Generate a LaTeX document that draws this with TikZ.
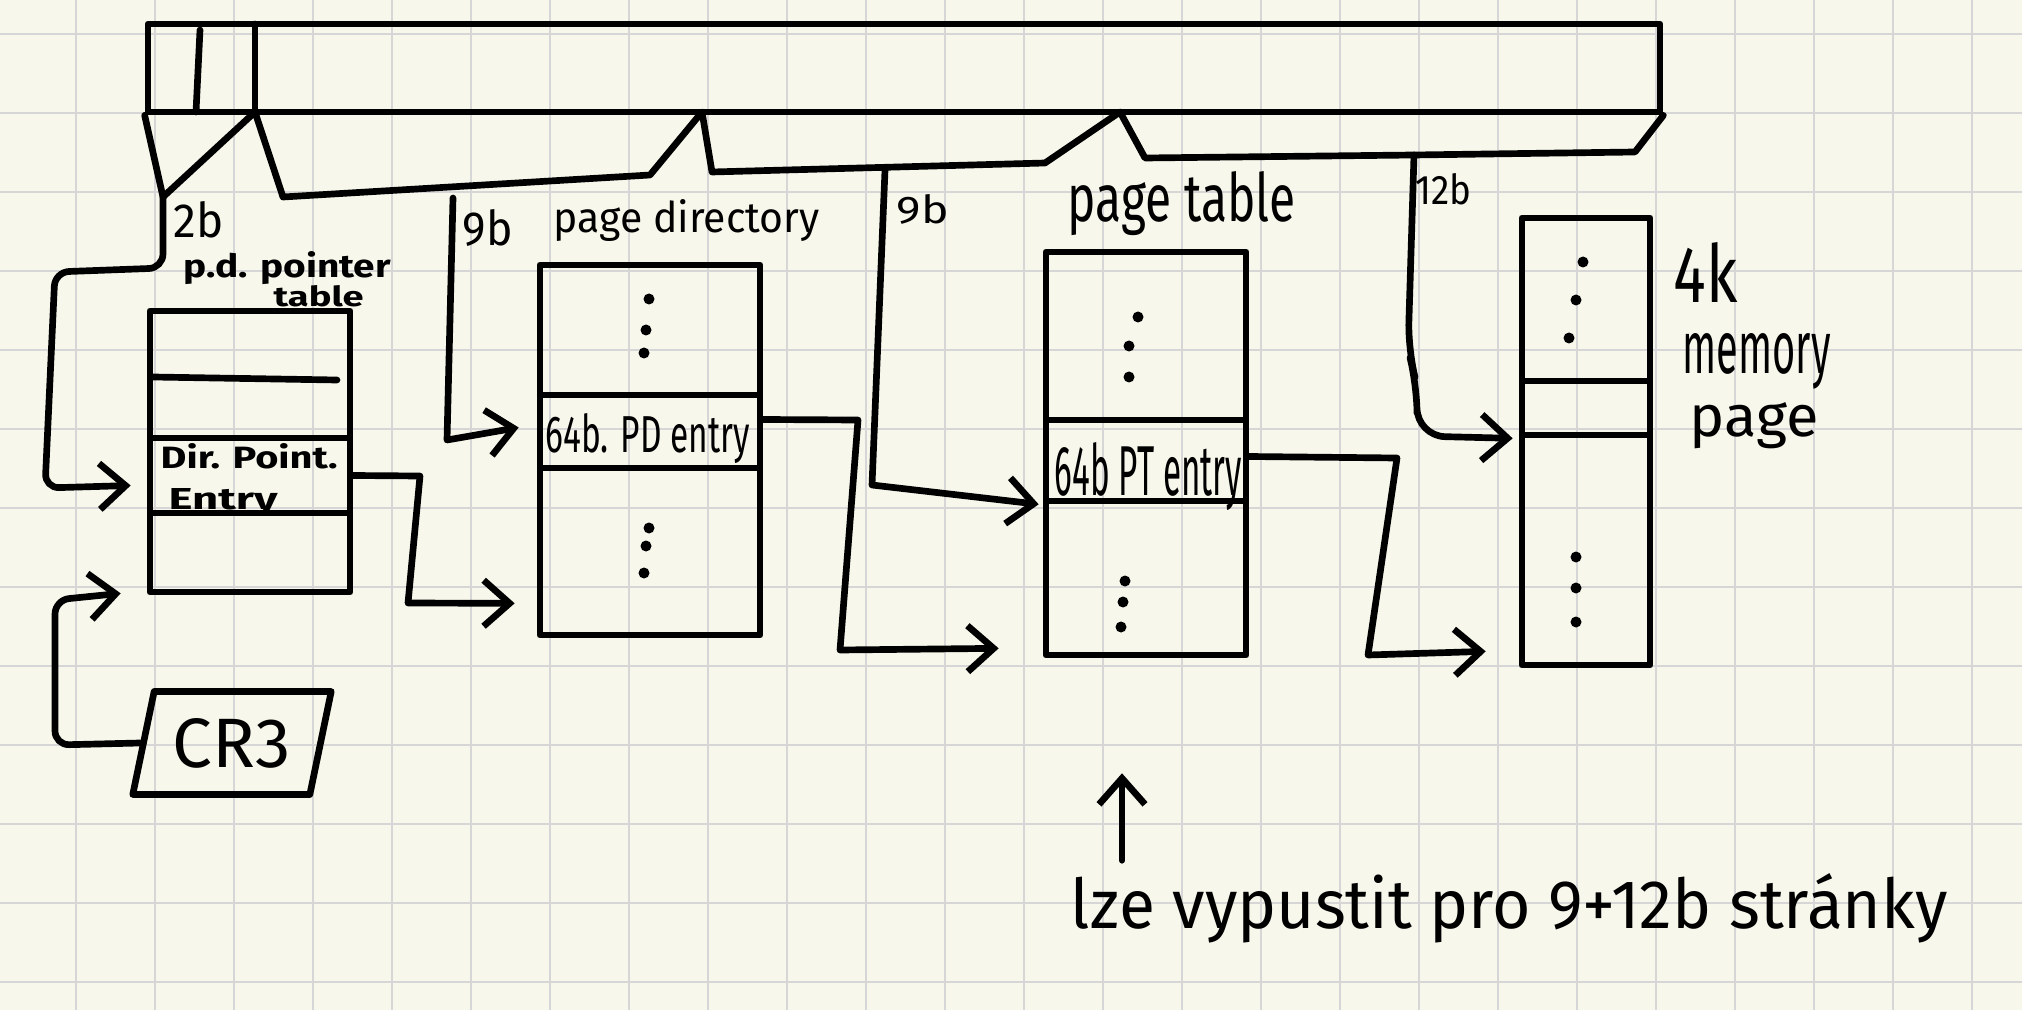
\documentclass[tikz,border=0pt]{standalone}
\usepackage{fontspec}
\setmainfont{Fira Sans}
\usepackage{graphicx}
\usetikzlibrary{arrows.meta,calc,fit,shapes.geometric}
\definecolor{paper}{HTML}{F8F7EC}
\definecolor{gridc}{HTML}{D6D6D6}
\definecolor{inkc}{HTML}{000000}
\begin{document}
\begin{tikzpicture}[x=0.1mm, y=-0.1mm,
  ink/.style={line width=1.9pt, line cap=round, line join=round, draw=inkc},
  tbl/.style={ink, draw, inner sep=0pt, fit={#1}},
  ptr/.style={ink, -{Straight Barb[length=2.6mm, width=4.6mm]}},
  lbl/.style={inner sep=0pt, anchor=base west, text=inkc},
  small/.style={lbl, font=\bfseries},
  gridl/.style={line width=0.75pt, draw=gridc},
  dot/.style={fill=inkc}]
% paper and squared grid
\useasboundingbox (0,0) rectangle (2022,1010);
\fill[paper] (0,0) rectangle (2022,1010);
\foreach \i in {0,...,25} \draw[gridl] ({-3+79*\i},0) -- ({-3+79*\i},1010);
\foreach \j in {0,...,12} \draw[gridl] (0,{34+79*\j}) -- (2022,{34+79*\j});

% linear address
\node[tbl={(148,24) (1660,112)}] (va) {};
\draw[ink] (200,30) -- (196,112);
\draw[ink] (255,24) -- (255,112);

% field brackets below the address
\coordinate (f2b) at (163,197);
\coordinate (b1) at (255,112);
\coordinate (b2) at (702,112);
\coordinate (b3) at (1120,112);
\coordinate (f9a) at (453,198);
\coordinate (f9b) at (885,170);
\coordinate (f12) at (1414,155);
\draw[ink] (va.south west) -- (f2b) -- (b1) -- (283,197) -- (650,175) -- (b2)
  -- (712,172) -- (1045,163) -- (b3) -- (1145,158) -- (f12) -- (1635,152) -- (va.south east);

% field labels
\node[lbl] (t2b) at (173,238) {\resizebox{5.0mm}{3.6mm}{2b}};
\node[lbl] (t9a) at (462,246) {\resizebox{5.0mm}{3.6mm}{9b}};
\node[lbl] (t9b) at (896,224) {\resizebox{5.2mm}{2.9mm}{9b}};
\node[lbl] (t12) at (1415,205) {\resizebox{5.6mm}{3.1mm}{12b}};

% page directory pointer table
\node[tbl={(150,311) (350,592)}] (pdpt) {};
\draw[ink] (153,377) -- (337,380);
\node[tbl={(150,438) (350,513)}] (pdpe) {};
\node[small] (tpd1) at (183,278) {\resizebox{20.7mm}{2.6mm}{p.d. pointer}};
\node[small] (tpd2) at (273,307) {\resizebox{9.0mm}{2.1mm}{table}};
\node[small] (tpde1) at (160,469) {\resizebox{17.7mm}{2.5mm}{Dir. Point.}};
\node[small] (tpde2) at (168,509) {\resizebox{10.9mm}{2.1mm}{Entry}};

% page directory
\node[tbl={(540,265) (760,635)}] (pd) {};
\node[tbl={(540,395) (760,468)}] (pde) {};
\node[lbl] (tpd) at (553,233) {\resizebox{26.6mm}{3.3mm}{page directory}};
\node[lbl] (tpdent) at (545,452) {\resizebox{20.4mm}{3.9mm}{64b. PD entry}};
\foreach \p in {(649,299),(646,330),(644,353),(649,528),(646,546),(644,573)}
  \fill[dot] \p circle[radius=0.55mm];

% page table
\node[tbl={(1046,252) (1246,655)}] (pt) {};
\node[tbl={(1046,420) (1246,501)}] (pte) {};
\node[lbl] (tpt) at (1067,222) {\resizebox{22.8mm}{5.0mm}{page table}};
\node[lbl] (tptent) at (1054,495) {\resizebox{18.7mm}{5.3mm}{64b PT entry}};
\foreach \p in {(1138,317),(1129,346),(1129,377),(1125,581),(1123,602),(1121,627)}
  \fill[dot] \p circle[radius=0.55mm];

% 4k memory page
\node[tbl={(1522,218) (1650,665)}] (mp) {};
\node[tbl={(1522,381) (1650,435)}] (mpe) {};
\node[lbl] (t4k) at (1673,303) {\resizebox{6.4mm}{6.0mm}{4k}};
\node[lbl] (tmem) at (1682,373) {\resizebox{14.8mm}{4.0mm}{memory}};
\node[lbl] (tpage) at (1689,437) {\resizebox{12.9mm}{3.4mm}{page}};
\foreach \p in {(1583,262),(1576,300),(1569,338),(1576,557),(1576,588),(1576,622)}
  \fill[dot] \p circle[radius=0.55mm];

% CR3 register
\node[ink, draw, trapezium, trapezium left angle=72, trapezium right angle=108,
  trapezium stretches=true, minimum width=19.9mm, minimum height=10.3mm,
  inner sep=0pt] (cr3) at (232,743) {\resizebox{11.8mm}{4.9mm}{CR3}};

% index and base connectors
\draw[ptr, rounded corners=4pt] (f2b) -- (163,268) -- (55,272) -- (45,488) -- ($(pdpe.west)+(-16,10)$);
\draw[ptr, rounded corners=4pt] (cr3.west) -- (55,745) -- (55,600) -- ($(pdpt.south west)+(-26,-2)$);
\draw[ptr] (f9a) -- (447,440) -- ($(pde.west)+(-18,-4)$);
\draw[ptr] (pdpe.east) -- (420,476) -- (408,603) -- ($(pd.south west)+(-22,-35)$);
\draw[ptr] (f9b) -- (872,485) -- ($(pte.south west)+(-4,0)$);
\draw[ptr] ($(pde.east)+(0,-12)$) -- (858,420) -- (840,650) -- ($(pt.south west)+(-44,-10)$);
\draw[ptr, rounded corners=8pt] (f12) -- (1408,350) -- (1417,385) -- (1417,436) -- ($(mpe.south west)+(-6,0)$);
\draw[ptr] ($(pte.east)+(0,-4)$) -- (1397,458) -- (1368,655) -- ($(mp.south west)+(-33,-17)$);

% remark
\node[lbl] (note) at (1070,928) {\resizebox{87.7mm}{5.5mm}{lze vypustit pro 9+12b stránky}};
\coordinate (noteup) at ($(note.north west)+(52,-12)$);
\draw[ptr] (noteup) -- ++(0,-87);
\end{tikzpicture}
\end{document}
